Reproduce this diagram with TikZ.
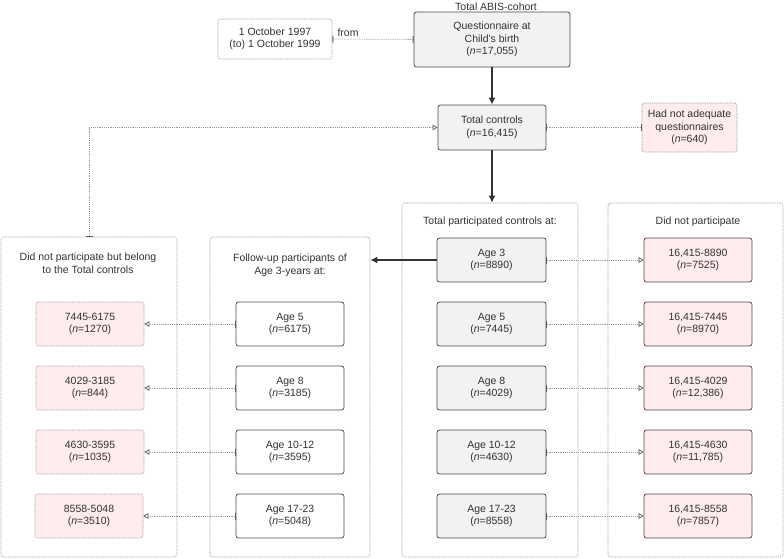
\documentclass[tikz,border=0pt]{standalone}
\usepackage{fontspec}
\setmainfont{Liberation Sans}
\usetikzlibrary{arrows.meta}
\definecolor{txt}{HTML}{333333}
\definecolor{bordr}{HTML}{4D4D4D}
\definecolor{grayfill}{HTML}{F1F2F4}
\definecolor{pinkfill}{HTML}{FFECEC}
\definecolor{dotc}{HTML}{9A9A9A}
\tikzset{
  every node/.style={text=txt, font=\fontsize{10.5}{12.5}\selectfont, align=center, inner sep=0pt},
  graybox/.style={draw=bordr, fill=grayfill, rounded corners=2.5pt, line width=0.8pt},
  whitebox/.style={draw=bordr, fill=white, rounded corners=2.5pt, line width=0.8pt},
  pinkbox/.style={draw=dotc, fill=pinkfill, rounded corners=2.5pt, line width=0.6pt, dash pattern=on 1.2pt off 1pt},
  pinksolid/.style={draw=bordr, fill=pinkfill, rounded corners=2.5pt, line width=0.8pt},
  dashbox/.style={draw=dotc, fill=white, rounded corners=2.5pt, line width=0.6pt, dash pattern=on 1.2pt off 1pt},
  groupbox/.style={draw=dotc, rounded corners=3pt, line width=0.6pt, dash pattern=on 1.2pt off 1pt},
  rowbox/.style={minimum width=108pt, minimum height=44pt},
  dotconn/.style={draw=dotc, line width=0.6pt, dash pattern=on 1.2pt off 1pt},
  bartip/.tip={Bar[width=7pt,line width=1pt,dotc!60!black]},
  opentri/.tip={Triangle[open,length=5pt,width=5.5pt,line width=0.7pt,dotc!60!black]},
  mainarrow/.style={draw=txt, line width=1.4pt, -{Latex[length=7pt,width=7pt]}},
}
\begin{document}
\begin{tikzpicture}[x=1pt,y=-1pt]
\useasboundingbox (0,0) rectangle (784,558);
% top
\node (ttl) at (496,6.5) {Total ABIS-cohort};
\node[graybox, minimum width=156pt, minimum height=55pt] (q) at (492,39.5) {Questionnaire at\\Child's birth\\(\textit{n}=17,055)};
\node[dashbox, minimum width=114pt, minimum height=40pt] (date) at (275,39) {1 October 1997\\(to) 1 October 1999};
\node (from) at (348,33) {from};
\node[graybox, minimum width=108pt, minimum height=45pt] (tc) at (492,127.5) {Total controls\\(\textit{n}=16,415)};
\node[pinkbox, minimum width=95pt, minimum height=49pt] (hna) at (689.5,127.5) {Had not adequate\\questionnaires\\(\textit{n}=640)};
% groups
\node[groupbox, minimum width=176pt, minimum height=320pt] (gL) at (89,397) {};
\node[groupbox, minimum width=160pt, minimum height=320pt] (gF) at (290,397) {};
\node[groupbox, minimum width=176pt, minimum height=354pt] (gT) at (490,380) {};
\node[groupbox, minimum width=175pt, minimum height=354pt] (gD) at (695.5,380) {};
\node (tL) at (88,263) {Did not participate but belong\\to the Total controls};
\node (tF) at (290,265.5) {Follow-up participants of\\Age 3-years at:};
\node (tT) at (490,222) {Total participated controls at:};
\node (tD) at (698,222) {Did not participate};
% total participated column
\node[graybox, rowbox, minimum width=109pt] (T1) at (491.5,260) {Age 3\\(\textit{n}=8890)};
\node[graybox, rowbox, minimum width=109pt] (T2) at (491.5,324) {Age 5\\(\textit{n}=7445)};
\node[graybox, rowbox, minimum width=109pt] (T3) at (491.5,388) {Age 8\\(\textit{n}=4029)};
\node[graybox, rowbox, minimum width=109pt] (T4) at (491.5,452) {Age 10-12\\(\textit{n}=4630)};
\node[graybox, rowbox, minimum width=109pt] (T5) at (491.5,516) {Age 17-23\\(\textit{n}=8558)};
% did not participate column
\node[pinksolid, rowbox] (D1) at (698,260) {16,415-8890\\(\textit{n}=7525)};
\node[pinksolid, rowbox] (D2) at (698,324) {16,415-7445\\(\textit{n}=8970)};
\node[pinksolid, rowbox] (D3) at (698,388) {16,415-4029\\(\textit{n}=12,386)};
\node[pinksolid, rowbox] (D4) at (698,452) {16,415-4630\\(\textit{n}=11,785)};
\node[pinksolid, rowbox] (D5) at (698,516) {16,415-8558\\(\textit{n}=7857)};
% follow-up column
\node[whitebox, rowbox] (F2) at (290,324) {Age 5\\(\textit{n}=6175)};
\node[whitebox, rowbox] (F3) at (290,388) {Age 8\\(\textit{n}=3185)};
\node[whitebox, rowbox] (F4) at (290,452) {Age 10-12\\(\textit{n}=3595)};
\node[whitebox, rowbox] (F5) at (290,516) {Age 17-23\\(\textit{n}=5048)};
% left column
\node[pinkbox, rowbox] (L2) at (90,324) {7445-6175\\(\textit{n}=1270)};
\node[pinkbox, rowbox] (L3) at (90,388) {4029-3185\\(\textit{n}=844)};
\node[pinkbox, rowbox] (L4) at (90,452) {4630-3595\\(\textit{n}=1035)};
\node[pinkbox, rowbox] (L5) at (89,516) {8558-5048\\(\textit{n}=3510)};
% connectors
\draw[mainarrow] (q.south) -- (tc.north);
\draw[mainarrow] (tc.south) -- (tc.south |- gT.north);
\draw[mainarrow] (T1.west) -- (T1.west -| gF.east);
\draw[dotconn, bartip-bartip] (date.east) -- (q.west);
\draw[dotconn, bartip-bartip] (tc.east) -- (hna.west);
\draw[dotconn, bartip-opentri] (gL.north) |- (tc.west);
\foreach \i in {1,...,5}{
  \draw[dotconn, bartip-opentri] (T\i.east) -- (D\i.west);
}
\foreach \i in {2,...,5}{
  \draw[dotconn, bartip-opentri] (F\i.west) -- (L\i.east);
}
\end{tikzpicture}
\end{document}
